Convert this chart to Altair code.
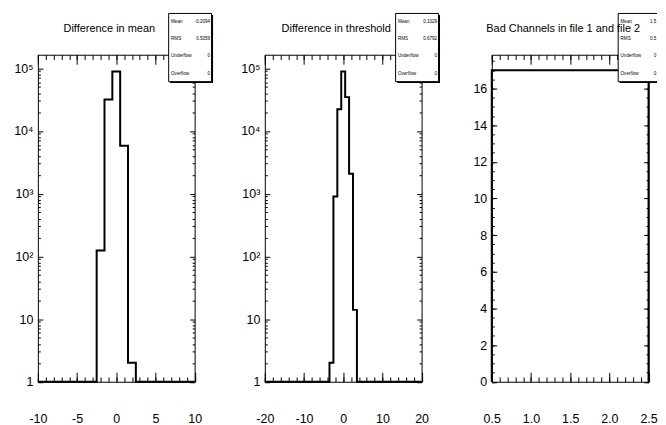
import altair as alt
import pandas as pd

FONT = "Liberation Sans"
W, H = 157.5, 328.5

# ---------------- data ----------------
# Panel 1: Difference in mean (bins of width 1 centred on integers)
mean_centers = [-2, -1, 0, 1, 2]
mean_counts = [124, 31800, 88700, 5780, 2]
mean_xrange = [-10, 10]
mean_xmajor = [-10, -5, 0, 5, 10]
mean_xminor = list(range(-10, 11))
mean_stats = ["-0.2094", "0.5059", "0", "0"]

# Panel 2: Difference in threshold
thr_centers = [-3, -2, -1, 0, 1, 2, 3]
thr_counts = [2, 896, 22100, 88700, 34600, 2080, 14]
thr_xrange = [-20, 20]
thr_xmajor = [-20, -10, 0, 10, 20]
thr_xminor = list(range(-20, 21, 2))
thr_stats = ["0.1029", "0.6792", "0", "0"]

# Panel 3: Bad channels
bad_centers = [1, 2]
bad_counts = [17, 17]
bad_xrange = [0.5, 2.5]
bad_xmajor = [0.5, 1.0, 1.5, 2.0, 2.5]
bad_xminor = [round(0.5 + 0.1 * k, 2) for k in range(21)]
bad_yrange = [0, 17.85]
bad_ymajor = [0, 2, 4, 6, 8, 10, 12, 14, 16]
bad_yminor = [0.5 * k for k in range(36)]
bad_stats = ["1.5", "0.5", "0", "0"]

stat_names = ["Mean", "RMS", "Underflow", "Overflow"]

log_range = [1, 1.64e5]
log_major = [1, 10, 100, 1000, 10000, 100000]
log_minor = [m * 10 ** k for k in range(5) for m in range(2, 10)]

titles = ["Difference in mean", "Difference in threshold", "Bad Channels in file 1 and file 2"]

LOG_LABELS = ("datum.value == 1 ? '1' : datum.value == 10 ? '10' : datum.value == 100 ? '10\u00b2' : "
              "datum.value == 1000 ? '10\u00b3' : datum.value == 10000 ? '10\u2074' : '10\u2075'")
INT_LABELS = "datum.value < 0 ? '-' + abs(datum.value) : '' + datum.value"
DEC_LABELS = "format(datum.value, '.1f')"


def outline(centers, counts, width, xr, floor):
    pts = [(xr[0], floor), (centers[0] - width / 2, floor)]
    for c, n in zip(centers, counts):
        v = max(n, floor)
        pts.append((c - width / 2, v))
        pts.append((c + width / 2, v))
    pts.append((centers[-1] + width / 2, floor))
    pts.append((xr[1], floor))
    df = pd.DataFrame(pts, columns=["x", "y"])
    df["x"] = df["x"].clip(xr[0], xr[1])
    df["i"] = range(len(df))
    return df


def stats_box(values, left, top, right, bottom, value_x, right_edge=True):
    one = pd.DataFrame({"k": [0]})
    layers = []
    if right_edge:
        layers.append(alt.Chart(one).mark_rect(color="black").encode(
            x=alt.value(left + 1.5), x2=alt.value(right + 1.5),
            y=alt.value(top + 1.5), y2=alt.value(bottom + 1.5)))
        layers.append(alt.Chart(one).mark_rect(fill="white", stroke="black", strokeWidth=1).encode(
            x=alt.value(left), x2=alt.value(right), y=alt.value(top), y2=alt.value(bottom)))
    else:
        layers.append(alt.Chart(one).mark_rect(color="black").encode(
            x=alt.value(left + 1.5), x2=alt.value(right),
            y=alt.value(bottom), y2=alt.value(bottom + 1.5)))
        layers.append(alt.Chart(one).mark_rect(fill="white").encode(
            x=alt.value(left), x2=alt.value(right), y=alt.value(top), y2=alt.value(bottom)))
        for (xa, xb, ya, yb) in [(left, right, top, top), (left, left, top, bottom), (left, right, bottom, bottom)]:
            layers.append(alt.Chart(one).mark_rule(color="black", strokeWidth=1).encode(
                x=alt.value(xa), x2=alt.value(xb), y=alt.value(ya), y2=alt.value(yb)))
    layers.append(alt.Chart(one).mark_text(align="left", baseline="alphabetic", fontSize=4.6, font=FONT,
                                           lineBreak="\n", lineHeight=17.33, color="black").encode(
        text=alt.value("\n".join(stat_names)), x=alt.value(left + 2.4), y=alt.value(-31.9)))
    layers.append(alt.Chart(one).mark_text(align="right", baseline="alphabetic", fontSize=4.6, font=FONT,
                                           lineBreak="\n", lineHeight=17.33, color="black").encode(
        text=alt.value("\n".join(values)), x=alt.value(value_x), y=alt.value(-31.9)))
    return layers


def panel(df, title, xdom, xmaj, xmin, xlab, ydom, ymaj, ymin, ylab, ytype, stats, box, anchor=False):
    xs = alt.Scale(domain=xdom, nice=False, zero=False)
    ys = alt.Scale(type=ytype, domain=ydom, nice=False, zero=False)
    base = alt.Chart(df)

    def enc(xaxis, yaxis):
        return dict(x=alt.X("x:Q", scale=xs, axis=xaxis),
                    y=alt.Y("y:Q", scale=ys, axis=yaxis),
                    order=alt.Order("i:Q"))

    def ticks(xo, xv, xts, yo, yv, yts):
        return base.mark_line(opacity=0).encode(**enc(
            alt.Axis(orient=xo, offset=-H, values=xv, tickSize=xts, labels=False, domain=False,
                     grid=False, title=None),
            alt.Axis(orient=yo, offset=-W, values=yv, tickSize=yts, labels=False, domain=False,
                     grid=False, title=None)))

    layers = [
        ticks("top", xmaj, 9.5, "right", ymaj, 5),
        ticks("top", xmin, 4.8, "right", ymin, 2.5),
        ticks("bottom", xmaj, 9.5, "left", ymaj, 5),
        ticks("bottom", xmin, 4.8, "left", ymin, 2.5),
        base.mark_line(color="black", strokeWidth=2).encode(**enc(
            alt.Axis(orient="bottom", values=xmaj, labelExpr=xlab, ticks=False, domain=False,
                     grid=False, labelFlush=False, labelPadding=31, title=None),
            alt.Axis(orient="left", values=ymaj, labelExpr=ylab, ticks=False, domain=False,
                     grid=False, labelFlush=False, labelPadding=5, title=None))),
    ]
    layers += stats_box(stats, *box)
    layers.append(alt.Chart(pd.DataFrame({"t": [title]})).mark_text(
        fontSize=11, font=FONT, color="black", align="center", baseline="middle").encode(
        text="t:N", x=alt.value(W / 2 - 7), y=alt.value(-25.5)))
    if anchor:
        layers.append(alt.Chart(pd.DataFrame({"k": [0]})).mark_rect(opacity=0).encode(
            x=alt.value(-29), x2=alt.value(0), y=alt.value(0), y2=alt.value(1)))
    return alt.layer(*layers).resolve_axis(x="independent", y="independent").properties(width=W, height=H)


p1 = panel(outline(mean_centers, mean_counts, 1, mean_xrange, 1), titles[0],
           mean_xrange, mean_xmajor, mean_xminor, INT_LABELS,
           log_range, log_major, log_minor, LOG_LABELS, "log", mean_stats,
           (131.4, -41.5, 174.5, 27, 173.1), anchor=True)
p2 = panel(outline(thr_centers, thr_counts, 1, thr_xrange, 1), titles[1],
           thr_xrange, thr_xmajor, thr_xminor, INT_LABELS,
           log_range, log_major, log_minor, LOG_LABELS, "log", thr_stats,
           (131.4, -41.5, 174.5, 27, 173.1))
p3 = panel(outline(bad_centers, bad_counts, 1, bad_xrange, 0), titles[2],
           bad_xrange, bad_xmajor, bad_xminor, DEC_LABELS,
           bad_yrange, bad_ymajor, bad_yminor, "datum.label", "linear", bad_stats,
           (127, -41.5, 166, 27, 165.3, False))

chart = alt.hconcat(p1, p2, p3, spacing=70, bounds="flush").properties(
    padding={"left": 0, "top": 3, "right": 0, "bottom": 0}, background="white"
).configure_view(stroke="black", strokeWidth=1).configure_axis(
    grid=False, labelFont=FONT, labelFontSize=12.5, labelColor="black",
    tickColor="black", tickWidth=1, labelFlush=False
)

chart.save("out.html", embed_options={"renderer": "svg", "actions": False})
